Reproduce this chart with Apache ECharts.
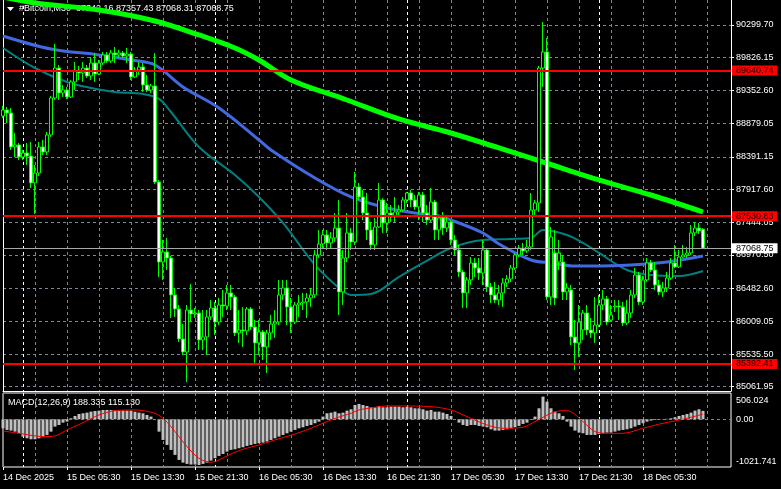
<!DOCTYPE html>
<html><head><meta charset="utf-8">
<script src="https://cdn.jsdelivr.net/npm/echarts@6/dist/echarts.min.js"></script>
<style>html,body{margin:0;padding:0;background:#000;}#c{width:781px;height:489px;}</style>
</head><body><div id="c"></div>
<script>
// ---------- DATA ----------
const headerText = '#Bitcoin,M30  87342.16 87357.43 87068.31 87068.75';
const macdText = 'MACD(12,26,9) 188.335 115.130';

const labelBars = [0,16,32,48,64,80,96,112,128,144,160];
const timeLabels = ['14 Dec 2025','15 Dec 05:30','15 Dec 13:30','15 Dec 21:30','16 Dec 05:30','16 Dec 13:30','16 Dec 21:30','17 Dec 05:30','17 Dec 13:30','17 Dec 21:30','18 Dec 05:30'];
const daySeparators = [5,53,101,149];

const priceTicks = [90299.70,89826.15,89352.60,88879.05,88391.15,87917.60,87444.05,86970.50,86482.60,86009.05,85535.50,85061.95];
const redLevels = [89640.74,87530.83,85392.41];
const bidPrice = 87068.75;
const macdTicks = [506.024,0,-1021.741];

const opens = [88982,89069,89026,88534,88563,88389,88447,88403,88013,88157,
88534,88461,88708,89243,89677,89316,89359,89258,89475,89648,
89605,89677,89561,89750,89590,89750,89866,89779,89895,89866,
89895,89851,89880,89547,89648,89692,89432,89359,89417,88027,
86868,87013,86926,86391,86188,85754,85565,86173,86115,86130,
85739,85783,86072,86202,85999,86246,86231,86420,86362,85841,
85884,85870,86188,85927,85696,85855,85638,85841,85970,85999,
86391,86492,86217,85999,86246,86275,86289,86347,86391,86970,
87129,87260,87144,87216,87360,86434,86926,87289,87158,87955,
87810,87578,87332,87115,87375,87766,87433,87578,87520,87592,
87621,87766,87868,87766,87665,87839,87578,87476,87737,87332,
87505,87360,87447,87187,87042,86723,86420,86608,86854,86781,
86709,87042,86507,86391,86318,86420,86565,86622,86781,86970,
87071,87028,87086,87621,87723,89677,89909,86362,86999,86868,
86868,86434,86463,85783,85696,85884,86130,85884,85841,85956,
86246,86333,86028,86217,86231,86217,85985,86130,86391,86680,
86289,86608,86854,86752,86536,86434,86492,86636,86854,86796,
86941,86970,86999,87289,87360,87342.16];
const closes = [89069,89026,88534,88563,88389,88447,88403,88013,88157,88534,
88461,88708,89243,89677,89316,89359,89258,89475,89648,89605,
89677,89561,89750,89590,89750,89866,89779,89895,89866,89895,
89851,89880,89547,89648,89692,89432,89359,89417,88027,86868,
87013,86926,86391,86188,85754,85565,86173,86115,86130,85739,
85783,86072,86202,85999,86246,86231,86420,86362,85841,85884,
85870,86188,85927,85696,85855,85638,85841,85970,85999,86391,
86492,86217,85999,86246,86275,86289,86347,86391,86970,87129,
87260,87144,87216,87360,86434,86926,87289,87158,87955,87810,
87578,87332,87115,87375,87766,87433,87578,87520,87592,87621,
87766,87868,87766,87665,87839,87578,87476,87737,87332,87505,
87360,87447,87187,87042,86723,86420,86608,86854,86781,86709,
87042,86507,86391,86318,86420,86565,86622,86781,86970,87071,
87028,87086,87621,87723,89677,89909,86362,87231,86347,86999,
86434,86492,85783,85696,85999,86130,85884,85841,85956,86246,
86333,85999,86101,86231,86217,85985,86130,86391,86680,86289,
86608,86854,86752,86536,86434,86492,86636,86854,86796,86941,
86970,86999,87289,87360,87318,87068.75];
const lows = [88953,88881,88490,88389,88345,88345,88273,87940,87563,88113,
88418,88418,88679,89214,89214,89258,89229,89243,89359,89504,
89475,89532,89504,89475,89576,89721,89750,89750,89750,89822,
89822,89750,89504,89532,89576,89330,89330,89316,87998,86651,
86608,86752,86057,86072,85710,85522,85131,85999,86057,85594,
85594,85522,86028,85812,85956,86072,86173,86173,85797,85696,
85638,85812,85884,85406,85522,85449,85261,85739,85768,85956,
86318,85956,85841,85970,86072,86173,86057,86217,86347,86926,
87071,87042,87071,87158,86101,86246,86868,87042,87115,87766,
87476,87187,87042,87042,87360,87289,87289,87447,87447,87520,
87592,87723,87665,87621,87476,87447,87404,87447,87187,87187,
87260,87303,87115,86970,86651,86202,86202,86536,86651,86608,
86536,86434,86275,86275,86246,86217,86507,86579,86752,86941,
86970,86999,87042,87549,87592,89403,86318,86246,86246,86752,
86318,86318,85666,85304,85493,85739,85812,85768,85696,85927,
86173,85956,85999,86144,86028,85941,85956,86057,86347,86246,
86246,86579,86723,86463,86391,86362,86434,86608,86781,86781,
86926,86926,86970,87245,87274,87068.31];
const highs = [89127,89113,89098,88737,88592,88490,88592,88606,88273,88606,
88635,88751,89272,90025,89721,89432,89403,89504,89764,89706,
89764,89721,89837,89895,89793,89909,89909,89938,89982,89938,
89924,89967,89909,89692,89764,89750,89576,89446,89895,88056,
87187,87216,86955,86492,86246,85970,86246,86550,86202,86173,
86173,86173,86318,86289,86347,86463,86536,86536,86391,86173,
86217,86217,86217,86028,86028,85884,85884,86101,86173,86608,
86608,86608,86347,86289,86391,86420,86420,86492,87042,87332,
87332,87332,87303,87578,87766,87042,87578,87360,88171,88013,
87911,87868,87447,87505,88013,87795,87723,87694,87810,87694,
87810,87882,87911,87839,87882,87882,87694,87940,87766,87549,
87592,87549,87476,87260,87115,86752,86651,86941,86926,86926,
87187,87071,86565,86579,86536,86636,86680,86825,86999,87115,
87144,87187,87868,87766,89706,90343,90112,87375,87332,87187,
86970,86565,86536,86028,86246,86173,86246,86057,86362,86391,
86463,86376,86246,86318,86318,86289,86318,86463,86781,86723,
86665,86926,86897,86868,86608,86579,86723,86926,87115,87042,
87115,87086,87404,87447,87433,87357.43];

// moving averages read at sample bars: [bar, price]
const maSlow = [[0,90705],[8,90619],[24,90517],[38,90358],[49,90155],[58,89967],[64,89793],[72,89504],[86,89214],[99,88939],[112,88736],[124,88519],[135,88316],[149,88056],[162,87838],[175,87592]];
const maMid = [[0,90141],[12,89952],[24,89866],[32,89793],[38,89721],[45,89403],[54,89098],[64,88635],[67,88490],[78,88085],[87,87810],[95,87665],[103,87578],[108,87549],[112,87476],[120,87288],[124,87129],[132,86897],[137,86854],[143,86810],[149,86810],[157,86825],[166,86868],[175,86955]];
const maFast = [[0,89967],[8,89677],[16,89475],[22,89388],[28,89330],[35,89301],[39,89229],[42,89040],[49,88534],[58,88128],[64,87810],[70,87433],[78,86825],[84,86492],[87,86391],[92,86405],[99,86651],[105,86854],[112,87071],[120,87187],[127,87201],[132,87216],[135,87332],[141,87259],[145,87144],[149,86999],[156,86752],[162,86680],[169,86665],[175,86738]];

const macdHist = [-201,-238,-253,-276,-313,-387,-425,-447,-447,-425,
-387,-350,-276,-164,-127,-75,-52,22,75,119,
134,149,171,186,194,209,209,209,194,194,
194,194,194,171,149,134,97,60,0,-276,
-462,-574,-685,-797,-909,-969,-998,-1013,-1013,-1021.741,
-998,-969,-924,-872,-820,-775,-723,-685,-671,-648,
-626,-596,-574,-551,-536,-522,-499,-462,-425,-387,
-350,-313,-276,-238,-201,-179,-149,-127,-89,-52,
60,134,149,171,134,149,194,224,320,343,
320,298,268,268,298,268,268,283,283,283,
268,283,268,246,246,224,194,209,171,171,
149,119,75,0,-75,-127,-149,-127,-127,-149,
-164,-179,-224,-253,-253,-238,-224,-201,-179,-149,
-104,-75,-15,60,246,506.024,395,246,171,134,
75,-52,-164,-253,-298,-313,-350,-350,-350,-328,
-313,-298,-298,-276,-253,-238,-224,-201,-164,-127,
-89,-52,-30,-15,-15,-5,10,22,45,75,
97,119,149,194,224,188.335];
const macdSignal = [[0,-261],[4,-313],[10,-387],[13,-372],[16,-238],[20,-75],[24,97],[28,194],[33,209],[35,194],[38,134],[40,22],[42,-164],[46,-611],[49,-872],[52,-961],[54,-909],[57,-775],[60,-671],[64,-574],[68,-462],[73,-328],[77,-201],[80,-89],[83,22],[87,134],[89,209],[93,268],[96,298],[99,298],[107,283],[112,209],[116,60],[121,-127],[125,-201],[130,-179],[133,-52],[137,134],[140,194],[142,171],[145,-52],[148,-276],[151,-313],[155,-313],[160,-201],[165,-89],[170,0],[175,115.13]];

// ---------- CHART ----------
const FONT = 'Liberation Sans';
const GRIDC = '#778899';
const dash = [3,3];
const chart = echarts.init(document.getElementById('c'), null, {renderer:'canvas', width:781, height:489});

const candleData = opens.map((o,i)=>[i,o,closes[i],lows[i],highs[i]]);
const histData = macdHist.map((v,i)=>[i,v]);

function timeFmt(v){ const k = labelBars.indexOf(Math.round(v)); return k>=0 ? timeLabels[k] : ''; }

const levelLines = redLevels.map(v=>({yAxis:v, lineStyle:{color:'#ff0000', width:2, type:'solid'},
  label:{show:true, position:'end', distance:1, formatter: v.toFixed(2), backgroundColor:'#ff0000', color:'#200000',
    fontFamily:FONT, fontSize:9, padding:[1,4,0,4]}}));
levelLines.push({yAxis:bidPrice, lineStyle:{color:'#a8a8a8', width:1, type:'solid'},
  label:{show:true, position:'end', distance:1, formatter: bidPrice.toFixed(2), backgroundColor:'#ffffff', color:'#000',
    fontFamily:FONT, fontSize:9, padding:[1,4,0,4]}});

function sepAxis(gi){
  return {type:'value', gridIndex:gi, min:0, max:182, position:'top',
    axisLine:{show:false}, axisLabel:{show:false},
    axisTick:{show:false, customValues:daySeparators},
    splitLine:{show:true, lineStyle:{color:'#ffffff', type:dash, width:1}}};
}

const option = {
  backgroundColor:'#000',
  animation:false,
  textStyle:{fontFamily:FONT},
  grid:[
    {left:3, right:50, top:0, height:391, show:false},
    {left:3, right:50, top:393, height:74, show:true, borderColor:'#ffffff', borderWidth:1}
  ],
  xAxis:[
    {type:'value', gridIndex:0, min:0, max:182, interval:8, position:'bottom',
      axisLine:{show:true, onZero:false, lineStyle:{color:'#ffffff', width:1}},
      axisTick:{show:false}, axisLabel:{show:false},
      splitLine:{show:true, lineStyle:{color:GRIDC, type:dash, width:1}}},
    {type:'value', gridIndex:1, min:0, max:182, interval:8, position:'top',
      axisLine:{show:false}, axisTick:{show:false}, axisLabel:{show:false},
      splitLine:{show:true, lineStyle:{color:GRIDC, type:dash, width:1}}},
    {type:'value', gridIndex:1, min:0, max:182, position:'bottom',
      axisLine:{show:false, onZero:false},
      axisTick:{show:true, customValues:labelBars, length:3, lineStyle:{color:'#ffffff'}},
      axisLabel:{show:true, customValues:labelBars, formatter:timeFmt, color:'#ffffff', fontSize:9, fontFamily:FONT, align:'left', margin:6},
      splitLine:{show:false}},
    sepAxis(0),
    sepAxis(1)
  ],
  yAxis:[
    {type:'value', gridIndex:0, position:'right', min:85000, max:90661.7,
      axisLine:{show:true, onZero:false, lineStyle:{color:'#ffffff'}},
      axisTick:{show:true, customValues:priceTicks, length:3, lineStyle:{color:'#ffffff'}},
      axisLabel:{show:true, customValues:priceTicks, formatter:v=>v.toFixed(2), color:'#ffffff', fontSize:9, fontFamily:FONT, margin:5},
      splitLine:{show:true, lineStyle:{color:GRIDC, type:dash, width:1}}},
    {type:'value', gridIndex:0, position:'left', min:85000, max:90661.7,
      axisLine:{show:true, onZero:false, lineStyle:{color:'#ffffff'}},
      axisTick:{show:false}, axisLabel:{show:false}, splitLine:{show:false}},
    {type:'value', gridIndex:1, position:'right', min:-1067, max:588,
      axisLine:{show:false}, axisTick:{show:false},
      axisLabel:{show:true, customValues:macdTicks, color:'#ffffff', fontSize:9, fontFamily:FONT, margin:5,
        formatter:v=>{ if (v===0) return '0.00'; return v>0 ? '{t|'+v.toFixed(3)+'}' : '{b|'+v.toFixed(3)+'}'; },
        rich:{t:{padding:[8,0,0,0], color:'#ffffff', fontSize:9, fontFamily:FONT}, b:{padding:[0,0,7,0], color:'#ffffff', fontSize:9, fontFamily:FONT}}},
      splitLine:{show:false}}
  ],
  graphic:[
    {type:'polygon', z:0, shape:{points:[[7,7],[14,7],[10.5,11]]}, style:{fill:'#ffffff'}},
    {type:'text', z:0, left:19, top:4, style:{text:headerText, fill:'#ffffff', font:'9px '+FONT}},
    {type:'text', z:0, left:8, top:398, style:{text:macdText, fill:'#ffffff', font:'9px '+FONT}}
  ],
  series:[
    {type:'line', xAxisIndex:0, yAxisIndex:0, data:maFast, showSymbol:false, smooth:0.35,
      lineStyle:{color:'#008080', width:2}, z:2},
    {type:'line', xAxisIndex:0, yAxisIndex:0, data:maMid, showSymbol:false, smooth:0.35,
      lineStyle:{color:'#4169e1', width:3}, z:2},
    {type:'line', xAxisIndex:0, yAxisIndex:0, data:maSlow, showSymbol:false, smooth:0.35,
      lineStyle:{color:'#00ff00', width:5}, z:2},
    {type:'candlestick', xAxisIndex:0, yAxisIndex:0, data:candleData, encode:{x:0, y:[1,2,3,4]},
      barWidth:3, z:3,
      itemStyle:{color:'#000000', color0:'#ffffff', borderColor:'#00ff00', borderColor0:'#00ff00', borderWidth:1}},
    {type:'line', xAxisIndex:0, yAxisIndex:0, data:[], z:4,
      markLine:{silent:true, symbol:['none','none'], data:levelLines}},
    {type:'bar', xAxisIndex:1, yAxisIndex:2, data:histData, barWidth:3, itemStyle:{color:'#c0c0c0'}, z:2,
      markLine:{silent:true, symbol:['none','none'], label:{show:false},
        data:[{yAxis:0, lineStyle:{color:GRIDC, type:dash, width:1}}]}},
    {type:'line', xAxisIndex:1, yAxisIndex:2, data:macdSignal, showSymbol:false, smooth:0.3,
      lineStyle:{color:'#ff0000', width:1}, z:3}
  ]
};
chart.setOption(option);
</script>
</body></html>
